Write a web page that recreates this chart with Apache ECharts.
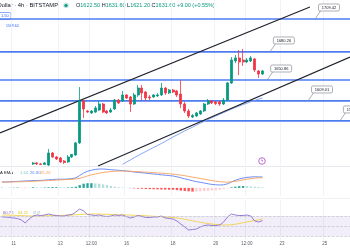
<!DOCTYPE html>
<html>
<head>
<meta charset="utf-8">
<script src="https://cdn.jsdelivr.net/npm/echarts@6/dist/echarts.min.js"></script>
<style>
html, body { margin: 0; padding: 0; background: #fff; }
#chart { width: 350px; height: 250px; }
</style>
</head>
<body>
<div id="chart"></div>
<script>
// 4h slots across the visible window
var slotCount = 90;
var tickIdx = [3, 15, 23, 32, 44, 55, 63, 72, 83];
var tickText = ['11', '13', '12:00', '16', '18', '20', '12:00', '23', '25'];

// candles: [open, close, low, high], first one sits in slot candleStart
var candleStart = 8;
var candles = [
	[1581.3, 1582.2, 1580.4, 1583.1], [1582.2, 1581.3, 1580.4, 1583.1], [1581.3, 1580.9, 1580.4, 1582.2],
	[1580.9, 1582.2, 1580.4, 1583.1], [1580.4, 1591.0, 1579.5, 1594.5], [1591.0, 1587.5, 1586.6, 1591.9],
	[1587.5, 1585.7, 1584.8, 1588.4], [1586.6, 1583.1, 1582.2, 1587.5], [1583.9, 1582.6, 1581.3, 1584.8],
	[1583.1, 1587.5, 1582.2, 1589.2], [1587.5, 1589.7, 1586.6, 1590.1], [1589.2, 1599.9, 1588.4, 1600.7],
	[1599.9, 1637.0, 1599.0, 1649.3], [1637.0, 1629.9, 1621.9, 1637.8], [1628.1, 1627.2, 1626.4, 1629.0],
	[1626.4, 1628.1, 1625.5, 1629.0], [1627.2, 1630.8, 1626.4, 1632.5], [1629.0, 1634.3, 1628.1, 1637.0],
	[1634.3, 1627.2, 1626.4, 1635.2], [1628.1, 1626.4, 1625.5, 1629.0], [1627.2, 1629.0, 1626.4, 1630.8],
	[1629.9, 1637.8, 1629.0, 1638.7], [1637.8, 1635.2, 1634.3, 1638.7], [1637.0, 1642.3, 1636.1, 1645.8],
	[1642.3, 1639.6, 1638.7, 1643.1], [1640.5, 1634.3, 1627.2, 1641.4], [1634.3, 1642.3, 1633.4, 1644.0],
	[1642.3, 1648.4, 1640.5, 1651.1], [1648.4, 1644.0, 1637.8, 1651.1], [1644.9, 1639.6, 1637.0, 1645.8],
	[1640.5, 1639.6, 1637.8, 1642.3], [1640.5, 1642.3, 1639.6, 1643.1], [1641.4, 1642.3, 1640.5, 1644.0],
	[1642.3, 1648.4, 1641.4, 1652.9], [1648.4, 1644.0, 1642.3, 1649.3], [1644.0, 1646.7, 1643.1, 1647.6],
	[1646.7, 1644.9, 1644.0, 1647.6], [1645.8, 1642.3, 1640.5, 1646.7], [1643.1, 1634.3, 1630.8, 1655.5],
	[1634.3, 1628.1, 1626.4, 1636.1], [1628.1, 1623.7, 1621.9, 1629.9], [1622.8, 1624.1, 1621.9, 1625.5],
	[1623.7, 1626.4, 1622.8, 1627.2], [1625.5, 1628.1, 1624.6, 1629.0], [1628.1, 1634.3, 1627.2, 1635.2],
	[1634.3, 1637.0, 1633.4, 1638.7], [1637.0, 1635.2, 1634.3, 1637.8], [1636.1, 1634.8, 1633.4, 1637.0],
	[1636.1, 1634.3, 1632.5, 1637.0], [1634.3, 1637.8, 1633.4, 1639.6], [1637.8, 1652.9, 1637.0, 1653.7],
	[1652.9, 1673.2, 1652.0, 1675.8], [1672.3, 1675.0, 1670.5, 1677.6], [1675.0, 1671.4, 1659.9, 1682.0],
	[1673.2, 1671.4, 1667.9, 1682.9], [1671.4, 1673.2, 1670.5, 1675.0], [1672.3, 1675.0, 1671.4, 1676.7],
	[1674.1, 1664.4, 1662.6, 1675.0], [1663.5, 1660.8, 1657.3, 1664.4], [1660.8, 1663.5, 1659.9, 1664.4]
];

// thin moving average under the candles
var maStart = 31;
var maValues = [1580.9, 1582.9, 1584.8, 1586.8, 1588.7, 1590.6, 1592.3, 1594.1, 1595.9, 1597.6,
	1599.4, 1601.2, 1603.2, 1605.2, 1606.9, 1608.7, 1610.5, 1612.2, 1613.8, 1615.6,
	1617.3, 1618.9, 1620.6, 1622.2, 1623.7, 1625.2, 1626.7, 1628.2, 1629.7, 1631.1,
	1632.5, 1633.8, 1635.0, 1636.3, 1637.4, 1638.6, 1639.6];

// horizontal levels with their callouts
var levelPrices = [1709.4, 1680.3, 1655.5, 1637.0, 1619.3];
var levelTexts = ['1709.42', '1680.26', '1650.86', '1609.01', '1589.50'];
var levelAnchorIdx = [80.5, 68.9, 68.2, 78.7, 86.9];

// channel lines, [slot, price]
var channelUpper = [[-0.5, 1608.7], [79.2, 1720.0]];
var channelLower = [[24.7, 1579.5], [89.5, 1675.8]];

var macdLine = [14.6, 14.6, 15.0, 15.5, 16.0, 16.5, 17.0, 17.5, 18.0, 18.3,
	18.5, 19.0, 20.0, 20.7, 21.2, 21.5, 21.5, 22.0, 22.9, 24.9,
	30.6, 36.8, 41.0, 43.7, 45.6, 46.6, 46.6, 45.9, 44.9, 44.2,
	43.4, 42.7, 41.7, 40.5, 39.2, 38.2, 37.3, 36.3, 35.3, 34.3,
	33.3, 32.3, 31.3, 30.3, 29.4, 27.4, 24.9, 22.4, 20.0, 17.5,
	15.5, 13.8, 12.1, 10.1, 8.6, 7.6, 7.2, 7.6, 10.1, 14.6,
	18.7, 22.0, 24.4, 25.9, 26.9, 27.4, 27.1, 26.9];
var signalLine = [14.1, 14.3, 14.6, 14.8, 15.0, 15.3, 15.5, 15.8, 16.3, 16.8,
	17.3, 17.8, 18.3, 18.7, 19.2, 19.7, 20.2, 20.7, 21.2, 22.0,
	23.7, 26.4, 29.4, 32.1, 34.3, 36.3, 38.0, 39.2, 40.2, 41.0,
	41.4, 41.4, 41.2, 41.0, 40.5, 40.0, 39.5, 39.0, 38.2, 37.7,
	37.0, 36.3, 35.5, 34.8, 34.0, 32.8, 31.6, 30.1, 28.4, 26.6,
	24.9, 23.2, 21.5, 19.7, 18.0, 16.5, 15.3, 14.6, 14.3, 14.8,
	16.0, 17.8, 19.7, 21.5, 22.9, 24.2, 24.9, 25.26];
var macdHist = [0.5, 0.3, 0.4, 0.7, 1.0, -0.3, -0.5, 0.3, 1.7, 1.5,
	1.2, 1.2, 1.7, 2.0, 2.0, 1.8, 1.3, 1.3, 1.7, 2.9,
	6.9, 10.4, 11.6, 11.6, 11.3, 10.3, 8.6, 6.7, 4.7, 3.2,
	2.0, 1.3, 0.5, -0.5, -1.3, -1.8, -2.2, -2.7, -3.1, -3.4,
	-3.7, -4.0, -4.2, -4.5, -4.6, -5.4, -6.7, -7.7, -8.4, -9.1,
	-9.0, -8.5, -8.0, -7.4, -6.6, -5.8, -4.6, -3.0, -1.2, 1.5,
	3.0, 4.2, 4.6, 4.3, 3.6, 2.9, 2.2, 1.64];

var rsiLine = [68, 68, 67, 66, 65, 62, 56, 64, 70, 72,
	71, 72, 74, 72, 71, 70, 70, 72, 73, 78,
	84, 80, 73, 72, 71, 72, 70, 69, 70, 72,
	71, 72, 69, 66, 68, 71, 69, 67, 67, 68,
	68, 70, 66, 65, 64, 60, 54, 48, 42, 43,
	44, 48, 51, 52, 51, 51, 52, 58, 68, 74,
	72, 71, 71, 72, 70, 60, 58, 60.72];
var rsiMa = [72, 72, 71.5, 71.5, 71, 71, 70.5, 70, 70, 70,
	70, 70.5, 70.5, 71, 71, 71, 71.5, 71.5, 72, 72.5,
	73, 73.5, 73.5, 74, 74, 74, 73.5, 73.5, 73, 73,
	72.5, 72.5, 72, 72, 71.5, 71, 71, 70.5, 70, 69.5,
	69, 68.5, 68, 67.5, 67, 66, 65, 63.5, 62, 60.5,
	59, 57.5, 56, 55, 54, 53, 52.5, 52, 52, 52.5,
	53.5, 55, 56.5, 58, 59.5, 61, 62.5, 64.11];

var headerValues = ['1622.50', '1631.60', '1621.20', '1631.60', '+9.00 (+0.55%)'];
var macdLegend = ['1.64', '26.90', '25.26'];
var rsiLegend = ['60.72', '64.11', '\u2205 \u2205'];

var FONT = '"Liberation Sans", Arial, sans-serif';
var GREEN = '#089981';
var RED = '#f23645';

var slots = [];
for (var i = 0; i < slotCount; i++) slots.push(String(i));

var candleData = [];
for (var i = 0; i < candleStart; i++) candleData.push(['-', '-', '-', '-']);
candleData = candleData.concat(candles);

var maData = [];
for (var i = 0; i < maStart; i++) maData.push('-');
maData = maData.concat(maValues);

var histData = macdHist.map(function(v, k) {
	var prev = k > 0 ? macdHist[k - 1] : v;
	var c;
	if (v >= 0) c = v >= prev ? '#26a69a' : '#b2dfdb';
	else c = v <= prev ? '#ff5252' : '#ffcdd2';
	return { value: v, itemStyle: { color: c } };
});

function isTick(index) {
	return tickIdx.indexOf(index) >= 0;
}

function catAxis(gridIndex, withLabels) {
	return {
		type: 'category',
		gridIndex: gridIndex,
		data: slots,
		boundaryGap: true,
		axisLine: { show: false },
		axisTick: { show: false },
		axisLabel: {
			show: withLabels,
			interval: isTick,
			margin: 1,
			fontSize: 4.5,
			fontFamily: FONT,
			color: '#5d606b',
			formatter: function(value) {
				var k = tickIdx.indexOf(parseInt(value, 10));
				return k >= 0 ? tickText[k] : '';
			}
		},
		splitLine: { show: true, interval: isTick, lineStyle: { color: '#f0f3fa', width: 1 } }
	};
}

function renderLevel(params, api) {
	var k = api.value(2);
	var pt = api.coord([api.value(0), api.value(1)]);
	var cs = params.coordSys;
	var bx = pt[0] + 3.5, by = pt[1] - 15;
	return {
		type: 'group',
		children: [
			{ type: 'line', shape: { x1: cs.x, y1: pt[1], x2: cs.x + cs.width, y2: pt[1] },
				style: { stroke: '#4d7cf0', lineWidth: 1.7 } },
			{ type: 'line', shape: { x1: pt[0], y1: pt[1], x2: bx + 2, y2: by + 7 },
				style: { stroke: '#8a8d96', lineWidth: 0.7 } },
			{ type: 'rect', shape: { x: bx, y: by, width: 21, height: 7, r: 1.5 },
				style: { fill: '#fff', stroke: '#8a8d96', lineWidth: 0.7 } },
			{ type: 'text', x: bx + 10.5, y: by + 3.7,
				style: { text: levelTexts[k], align: 'center', verticalAlign: 'middle',
					font: '4px ' + FONT, fill: '#131722' } }
		]
	};
}

var chart = echarts.init(document.getElementById('chart'));

var headerText = '{l|O}{v|' + headerValues[0] + '} {l|H}{v|' + headerValues[1] + '} {l|L}{v|' +
	headerValues[2] + '} {l|C}{v|' + headerValues[3] + '} {v|' + headerValues[4] + '}';

chart.setOption({
	animation: false,
	backgroundColor: '#fff',
	grid: [
		{ left: 0, right: 0, top: 0, height: 166, outerBoundsMode: 'none' },
		{ left: 0, right: 0, top: 166, height: 30, outerBoundsMode: 'none' },
		{ left: 0, right: 0, top: 200, height: 40, outerBoundsMode: 'none' }
	],
	xAxis: [
		catAxis(0, false),
		{ type: 'value', gridIndex: 0, min: -0.5, max: slotCount - 0.5, show: false },
		catAxis(1, false),
		catAxis(2, true)
	],
	yAxis: [
		{ type: 'value', gridIndex: 0, min: 1579.5, max: 1726.2, show: false },
		{ type: 'value', gridIndex: 1, min: -20, max: 54, show: false },
		{ type: 'value', gridIndex: 2, min: 22, max: 102, show: false }
	],
	series: [
		{
			type: 'custom',
			xAxisIndex: 1, yAxisIndex: 0,
			renderItem: renderLevel,
			data: levelPrices.map(function(p, k) { return [levelAnchorIdx[k], p, k]; }),
			silent: true,
			z: 1
		},
		{
			type: 'line', xAxisIndex: 1, yAxisIndex: 0,
			data: channelUpper, symbol: 'none', silent: true,
			lineStyle: { color: '#1e222d', width: 1.1 }, z: 3
		},
		{
			type: 'line', xAxisIndex: 1, yAxisIndex: 0,
			data: channelLower, symbol: 'none', silent: true,
			lineStyle: { color: '#1e222d', width: 1.1 }, z: 3
		},
		{
			type: 'line', xAxisIndex: 0, yAxisIndex: 0,
			data: maData, symbol: 'none', silent: true,
			lineStyle: { color: '#7b9cf5', width: 0.9 }, z: 2
		},
		{
			type: 'candlestick', xAxisIndex: 0, yAxisIndex: 0,
			data: candleData,
			barWidth: 2.6,
			itemStyle: { color: GREEN, color0: RED, borderColor: GREEN, borderColor0: RED, borderWidth: 0.8 },
			z: 4
		},
		{
			type: 'bar', xAxisIndex: 2, yAxisIndex: 1,
			data: histData, barWidth: '60%', silent: true
		},
		{
			type: 'line', xAxisIndex: 2, yAxisIndex: 1,
			data: macdLine, symbol: 'none', silent: true,
			lineStyle: { color: '#5b82f5', width: 0.9 }
		},
		{
			type: 'line', xAxisIndex: 2, yAxisIndex: 1,
			data: signalLine, symbol: 'none', silent: true,
			lineStyle: { color: '#f7a05c', width: 0.9 }
		},
		{
			type: 'line', xAxisIndex: 3, yAxisIndex: 2,
			data: rsiMa, symbol: 'none', silent: true,
			lineStyle: { color: '#f2d04a', width: 0.9 }
		},
		{
			type: 'line', xAxisIndex: 3, yAxisIndex: 2,
			data: rsiLine, symbol: 'none', silent: true,
			lineStyle: { color: '#8a6fd4', width: 0.9 },
			markArea: {
				silent: true,
				itemStyle: { color: 'rgba(126,87,194,0.1)' },
				data: [[{ yAxis: 70 }, { yAxis: 30 }]]
			},
			markLine: {
				silent: true, symbol: 'none', label: { show: false },
				lineStyle: { color: '#c3c5cc', type: 'dashed', width: 0.7 },
				data: [{ yAxis: 70 }, { yAxis: 50 }, { yAxis: 30 }]
			}
		}
	],
	graphic: [
		{ type: 'line', silent: true, shape: { x1: 0, y1: 166.5, x2: 350, y2: 166.5 },
			style: { stroke: '#e6e8ee', lineWidth: 1 } },
		{ type: 'line', silent: true, shape: { x1: 0, y1: 198.5, x2: 350, y2: 198.5 },
			style: { stroke: '#eef0f4', lineWidth: 1 } },
		{ type: 'text', x: 58, y: 5.5, silent: true,
			style: { text: 'Ethereum / U.S. Dollar \u00b7 4h \u00b7 BITSTAMP', align: 'right', verticalAlign: 'middle',
				font: '5.8px ' + FONT, fill: '#131722' } },
		{ type: 'circle', silent: true, shape: { cx: 66, cy: 5.5, r: 2.8 }, style: { fill: 'rgba(8,153,129,0.25)' } },
		{ type: 'circle', silent: true, shape: { cx: 66, cy: 5.5, r: 1.6 }, style: { fill: GREEN } },
		{ type: 'text', x: 76, y: 5.5, silent: true,
			style: { text: headerText, verticalAlign: 'middle', font: '5.5px ' + FONT,
				rich: {
					l: { fill: '#131722', fontSize: 5.5, fontFamily: FONT },
					v: { fill: GREEN, fontSize: 5.5, fontFamily: FONT }
				} } },
		{ type: 'rect', silent: true, shape: { x: -4, y: 12.5, width: 15, height: 7, r: 1.5 },
			style: { fill: '#fff', stroke: '#6d93f2', lineWidth: 0.8 } },
		{ type: 'text', x: 1, y: 16.2, silent: true,
			style: { text: '1.50', verticalAlign: 'middle', font: '4px ' + FONT, fill: '#2962ff' } },
		{ type: 'text', x: 6, y: 26.5, silent: true,
			style: { text: '1569.64', verticalAlign: 'middle', font: '3.5px ' + FONT, fill: '#2962ff' } },
		{ type: 'circle', silent: true, shape: { cx: 262, cy: 161, r: 3.3 },
			style: { fill: '#fff', stroke: '#b45ad0', lineWidth: 0.9 } },
		{ type: 'text', x: 262, y: 161.2, silent: true,
			style: { text: '\u03df', align: 'center', verticalAlign: 'middle', font: '4.5px "DejaVu Sans"', fill: '#b45ad0' } },
		{ type: 'text', x: 13, y: 172.5, silent: true,
			style: { text: 'MACD 12 26 close 9 EMA EMA', align: 'right', verticalAlign: 'middle',
				font: '4.2px ' + FONT, fill: '#131722' } },
		{ type: 'text', x: 20, y: 172.5, silent: true,
			style: { text: macdLegend[0], verticalAlign: 'middle', font: '4.2px ' + FONT, fill: '#80cbc4' } },
		{ type: 'text', x: 30, y: 172.5, silent: true,
			style: { text: macdLegend[1], verticalAlign: 'middle', font: '4.2px ' + FONT, fill: '#5b82f5' } },
		{ type: 'text', x: 40, y: 172.5, silent: true,
			style: { text: macdLegend[2], verticalAlign: 'middle', font: '4.2px ' + FONT, fill: '#f7a05c' } },
		{ type: 'text', x: 3, y: 213, silent: true,
			style: { text: rsiLegend[0], verticalAlign: 'middle', font: '4.2px ' + FONT, fill: '#7e57c2' } },
		{ type: 'text', x: 18, y: 213, silent: true,
			style: { text: rsiLegend[1], verticalAlign: 'middle', font: '4.2px ' + FONT, fill: '#e5c230' } },
		{ type: 'text', x: 33, y: 213, silent: true,
			style: { text: rsiLegend[2], verticalAlign: 'middle', font: '4.2px ' + FONT, fill: '#9598a1' } }
	]
});
</script>
</body>
</html>
